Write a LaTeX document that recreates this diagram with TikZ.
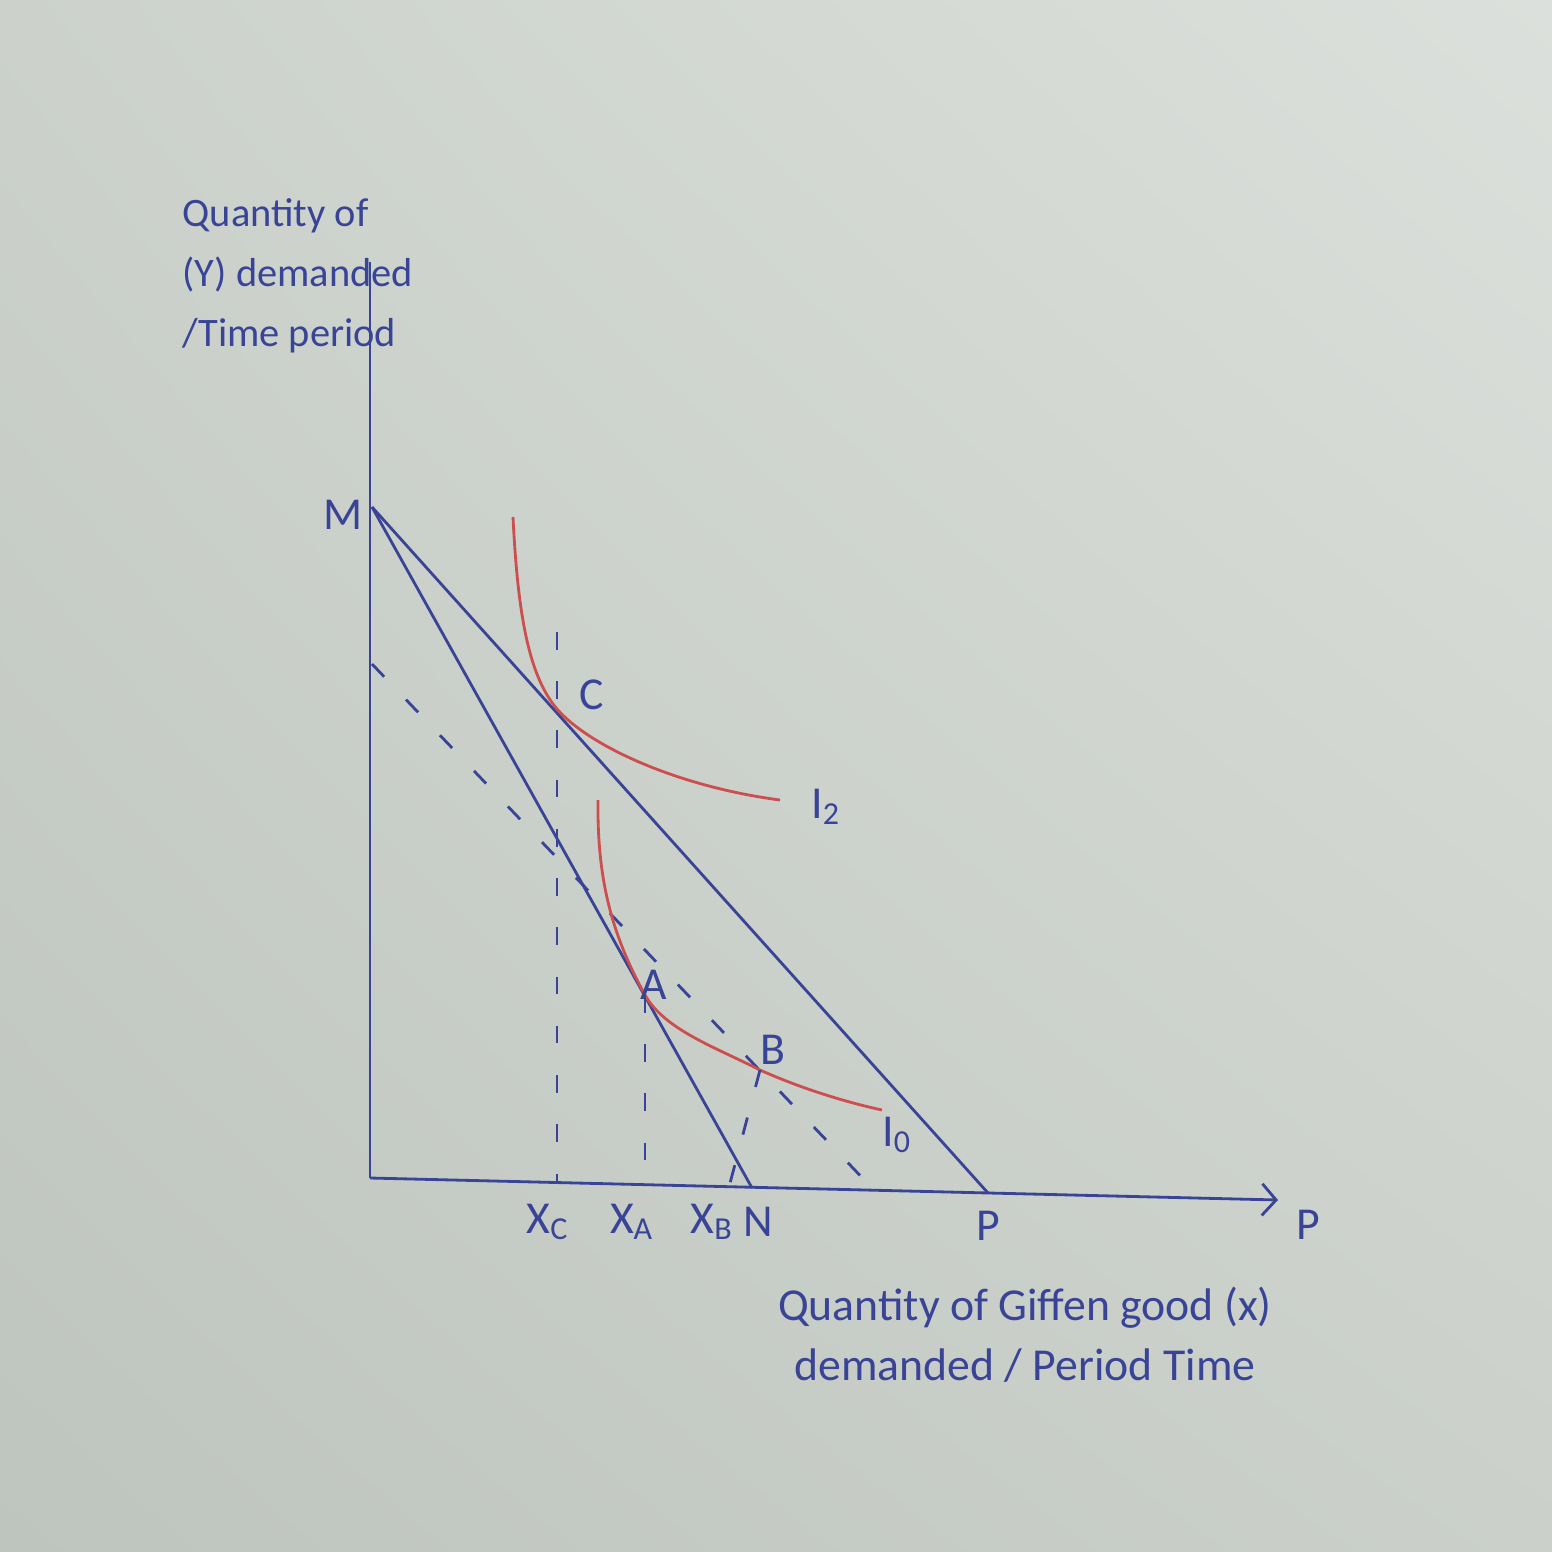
\documentclass[tikz,border=0pt]{standalone}
\usepackage{fontspec}
\setmainfont{Carlito}
\usepackage{tikz}
\usetikzlibrary{arrows.meta,positioning,shadings}
\definecolor{paperul}{RGB}{204,210,203}
\definecolor{paperur}{RGB}{220,224,220}
\definecolor{paperll}{RGB}{190,197,190}
\definecolor{paperlr}{RGB}{203,208,202}
\definecolor{penblue}{RGB}{58,68,150}
\definecolor{penred}{RGB}{205,78,78}

\begin{document}
\begin{tikzpicture}[x=0.01cm, y=-0.01cm,
    budget/.style={draw=penblue, line width=0.8pt},
    indiff/.style={draw=penred, line width=0.8pt},
    guide/.style={draw=penblue, line width=0.8pt, dash pattern=on 5pt off 9pt},
    axislbl/.style={text=penblue, font=\fontsize{13}{17}\selectfont},
    ptlbl/.style={text=penblue, font=\fontsize{13}{15}\selectfont, inner sep=1pt}]

    % paper
    \shade[upper left=paperul, upper right=paperur, lower left=paperll, lower right=paperlr] (0,0) rectangle (1552,1552);

    % points
    \coordinate (O) at (370,1178);
    \coordinate (Ytop) at (370,262);
    \coordinate (Xend) at (1278,1200);
    \coordinate (M) at (372,507);
    \coordinate (N) at (752,1188);
    \coordinate (P) at (988,1193);
    \coordinate (C) at (557,709);
    \coordinate (A) at (645,995);
    \coordinate (B) at (760,1070);
    \coordinate (Ctop) at (557,632);
    \coordinate (XC) at (557,1182);
    \coordinate (XA) at (645,1185);
    \coordinate (XB) at (729,1187);
    \coordinate (Dstart) at (372,664);
    \coordinate (Dend) at (872,1188);

    % axes
    \draw[budget] (Ytop) -- (O);
    \draw[budget, -{Straight Barb[length=4pt, width=9pt]}] (O) -- (Xend);

    % budget lines
    \draw[budget] (M) -- (P);
    \draw[budget] (M) -- (N);
    \draw[guide] (Dstart) -- (Dend);

    % indifference curves
    \draw[indiff] (513,517) .. controls (518,620) and (530,677) .. (C) .. controls (590,747) and (680,787) .. (780,800);
    \draw[indiff] (598,800) .. controls (597,880) and (612,935) .. (A) .. controls (665,1030) and (715,1047) .. (B) .. controls (800,1088) and (845,1102) .. (882,1110);

    % drop lines
    \draw[guide] (Ctop) -- (XC);
    \draw[guide] (A) -- (XA);
    \draw[guide] (B) -- (XB);

    % labels
    \node[ptlbl] (lM) at (343,515) {M};
    \node[ptlbl] (lC) at (592,695) {C};
    \node[ptlbl] (lA) at (654,985) {A};
    \node[ptlbl] (lB) at (773,1050) {B};
    \node[ptlbl] (lI2) at (826,807) {I\textsubscript{2}};
    \node[ptlbl] (lI0) at (897,1135) {I\textsubscript{0}};
    \node[ptlbl] (lXC) at (548,1222) {X\textsubscript{C}};
    \node[ptlbl] (lXA) at (632,1222) {X\textsubscript{A}};
    \node[ptlbl] (lXB) at (712,1222) {X\textsubscript{B}};
    \node[ptlbl] (lN) at (758,1222) {N};
    \node[ptlbl] (lP) at (988,1226) {P};
    \node[ptlbl, right=4pt of Xend, yshift=-7pt] (lP2) {P};

    \node[axislbl, font=\fontsize{11.5}{17}\selectfont, anchor=north west, align=left, inner sep=0pt] (ylabel) at (182,198) {Quantity of\\(Y) demanded\\/Time period};
    \node[axislbl, align=center] (xlabel) at (1025,1335) {Quantity of Giffen good (x)\\demanded / Period Time};
\end{tikzpicture}
\end{document}
